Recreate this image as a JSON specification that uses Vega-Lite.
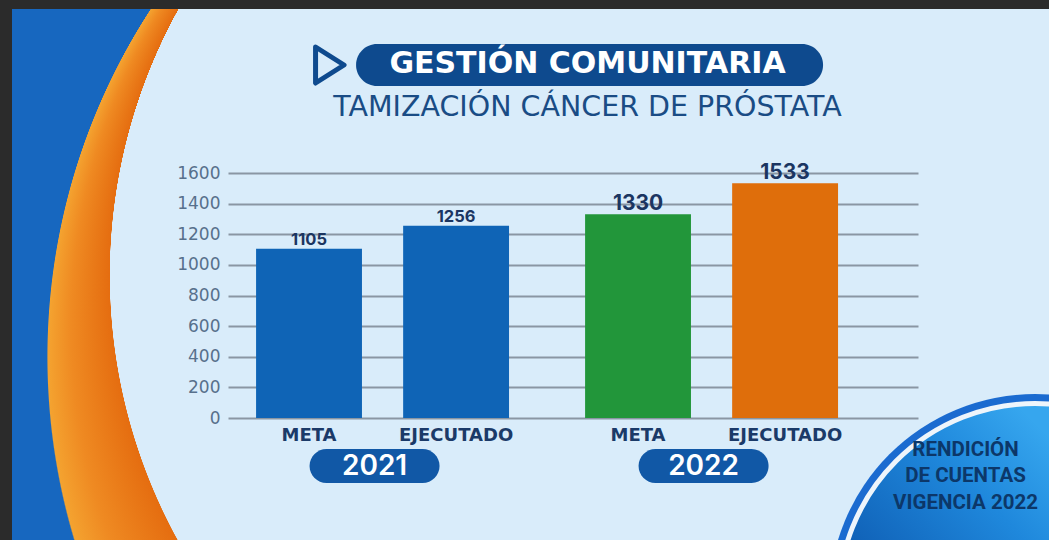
{
  "$schema": "https://vega.github.io/schema/vega-lite/v6.json",
  "width": 1037,
  "height": 531,
  "autosize": {"type": "none"},
  "padding": {"left": 12, "top": 9, "right": 0, "bottom": 0},
  "background": "#2b2b2b",
  "view": {
    "stroke": null,
    "fill": {
      "gradient": "radial",
      "x1": 0.6249, "y1": 0.5005, "r1": 0.5304,
      "x2": 0.6490, "y2": 0.5824, "r2": 0.6172,
      "stops": [
        {"offset": 0, "color": "#d9ecfa"},
        {"offset": 0.006, "color": "#e56d10"},
        {"offset": 0.6, "color": "#ef8a22"},
        {"offset": 0.955, "color": "#f4a330"},
        {"offset": 0.97, "color": "#1767bf"},
        {"offset": 1, "color": "#1767bf"}
      ]
    }
  },
  "config": {"font": "DejaVu Sans"},
  "title": {
    "text": "GESTIÓN COMUNITARIA",
    "subtitle": "TAMIZACIÓN CÁNCER DE PRÓSTATA",
    "anchor": "middle",
    "frame": "group",
    "orient": "top",
    "offset": 0,
    "font": "DejaVu Sans",
    "fontSize": 30,
    "fontWeight": "bold",
    "color": "#ffffff",
    "subtitleFont": "DejaVu Sans",
    "subtitleFontSize": 28.5,
    "subtitleFontWeight": "normal",
    "subtitleColor": "#1a4c85",
    "subtitlePadding": 14,
    "dx": 57,
    "dy": 112
  },
  "data": {
    "values": [
      {"anio": "2021", "tipo": "META", "serie": "2021 META", "valor": 1105},
      {"anio": "2021", "tipo": "EJECUTADO", "serie": "2021 EJECUTADO", "valor": 1256},
      {"anio": "2022", "tipo": "META", "serie": "2022 META", "valor": 1330},
      {"anio": "2022", "tipo": "EJECUTADO", "serie": "2022 EJECUTADO", "valor": 1533}
    ]
  },
  "layer": [
    {
      "mark": {"type": "bar"},
      "encoding": {
        "x": {
          "field": "anio",
          "type": "ordinal",
          "scale": {"range": [216, 906], "paddingInner": 0.106, "paddingOuter": 0.1016, "align": 0.112},
          "axis": {
            "orient": "bottom",
            "offset": -74,
            "domain": false,
            "ticks": false,
            "grid": false,
            "labelPadding": 0,
            "labelBaseline": "middle",
            "labelAngle": 0,
            "labelFont": "Inter",
            "labelFontSize": 28,
            "labelFontWeight": 600,
            "labelColor": "#ffffff",
            "labelOffset": -8,
            "zindex": 1,
            "title": ["RENDICIÓN", "DE CUENTAS", "VIGENCIA 2022"],
            "titleX": 953,
            "titleY": -11,
            "titleAlign": "center",
            "titleBaseline": "alphabetic",
            "titleAngle": 0,
            "titleFont": "Roboto",
            "titleFontWeight": "bold",
            "titleFontSize": 20.5,
            "titleColor": "#0c3769",
            "titleLineHeight": 26.5
          }
        },
        "xOffset": {
          "field": "tipo",
          "type": "nominal",
          "sort": ["META", "EJECUTADO"],
          "scale": {"paddingInner": 0.28, "paddingOuter": 0.14}
        },
        "y": {
          "field": "valor",
          "type": "quantitative",
          "scale": {"domain": [0, 1600], "range": [409, 164], "nice": false},
          "axis": {
            "values": [0, 200, 400, 600, 800, 1000, 1200, 1400, 1600],
            "format": "d",
            "offset": -216,
            "domain": false,
            "ticks": false,
            "labelPadding": 8,
            "labelFont": "DejaVu Sans",
            "labelFontSize": 17,
            "labelColor": "#57708c",
            "grid": true,
            "gridColor": "#8a96a3",
            "gridWidth": 2,
            "title": null
          }
        },
        "color": {
          "field": "serie",
          "type": "nominal",
          "scale": {
            "domain": ["2021 META", "2021 EJECUTADO", "2022 META", "2022 EJECUTADO"],
            "range": ["#0f64b6", "#0f64b6", "#22963a", "#df6e0b"]
          },
          "legend": null
        }
      }
    },
    {
      "mark": {"type": "text", "dy": -4, "font": "Inter", "fontWeight": "bold", "color": "#1b3561", "baseline": "alphabetic"},
      "encoding": {
        "x": {"field": "anio", "type": "ordinal"},
        "xOffset": {"field": "tipo", "type": "nominal", "sort": ["META", "EJECUTADO"]},
        "y": {"field": "valor", "type": "quantitative"},
        "text": {"field": "valor", "type": "quantitative", "format": "d"},
        "size": {"field": "anio", "type": "ordinal", "scale": {"domain": ["2021", "2022"], "range": [16.5, 21]}, "legend": null}
      }
    },
    {
      "mark": {"type": "text", "dy": 23, "font": "DejaVu Sans", "fontWeight": "bold", "fontSize": 18, "color": "#1b3a68", "baseline": "alphabetic"},
      "encoding": {
        "x": {"field": "anio", "type": "ordinal"},
        "xOffset": {"field": "tipo", "type": "nominal", "sort": ["META", "EJECUTADO"]},
        "y": {"datum": 0},
        "text": {"field": "tipo", "type": "nominal"}
      }
    },
    {
      "transform": [{"filter": {"field": "tipo", "equal": "META"}}],
      "mark": {
        "type": "point",
        "shape": "M -0.7385,-0.2615 L 0.7385,-0.2615 A 0.2615,0.2615 0 0 1 0.7385,0.2615 L -0.7385,0.2615 A 0.2615,0.2615 0 0 1 -0.7385,-0.2615 Z",
        "filled": true, "fill": "#1158a6", "strokeWidth": 0, "opacity": 1,
        "size": 16900, "xOffset": -8, "yOffset": 48
      },
      "encoding": {
        "x": {"field": "anio", "type": "ordinal"},
        "y": {"datum": 0}
      }
    },
    {
      "data": {"values": [{"elemento": "titulo"}]},
      "mark": {
        "type": "point",
        "shape": "M -0.9101,-0.0899 L 0.9101,-0.0899 A 0.0899,0.0899 0 0 1 0.9101,0.0899 L -0.9101,0.0899 A 0.0899,0.0899 0 0 1 -0.9101,-0.0899 Z",
        "filled": true, "fill": "#0e4a8e", "strokeWidth": 0, "opacity": 1,
        "size": 218089, "xOffset": 207, "yOffset": -108
      },
      "encoding": {"x": {"datum": "2021"}, "y": {"datum": 1600}}
    },
    {
      "data": {"values": [{"elemento": "flecha"}]},
      "mark": {
        "type": "point",
        "shape": "M -0.69,-0.857 L 0.667,0 L -0.69,0.857 Z",
        "filled": false, "stroke": "#0e4a8e", "strokeWidth": 5, "strokeJoin": "round", "opacity": 1,
        "size": 1764, "xOffset": -52.5, "yOffset": -108
      },
      "encoding": {"x": {"datum": "2021"}, "y": {"datum": 1600}}
    },
    {
      "data": {"values": [{"elemento": "sello"}]},
      "mark": {
        "type": "point", "shape": "circle", "filled": true, "fill": "#1b6bd0", "strokeWidth": 0, "opacity": 1,
        "size": 169744, "xOffset": 323.5, "yOffset": 182
      },
      "encoding": {"x": {"datum": "2022"}, "y": {"datum": 0}}
    },
    {
      "data": {"values": [{"elemento": "sello"}]},
      "mark": {
        "type": "point", "shape": "circle", "filled": true, "opacity": 1,
        "fill": {
          "gradient": "linear", "x1": 0.1, "y1": 0.45, "x2": 0.5, "y2": 0.05,
          "stops": [
            {"offset": 0, "color": "#0f5fb5"},
            {"offset": 0.6, "color": "#1f88dc"},
            {"offset": 1, "color": "#36a6ee"}
          ]
        },
        "stroke": "#eef5fb", "strokeWidth": 5,
        "size": 154449, "xOffset": 323.5, "yOffset": 182
      },
      "encoding": {"x": {"datum": "2022"}, "y": {"datum": 0}}
    }
  ]
}
